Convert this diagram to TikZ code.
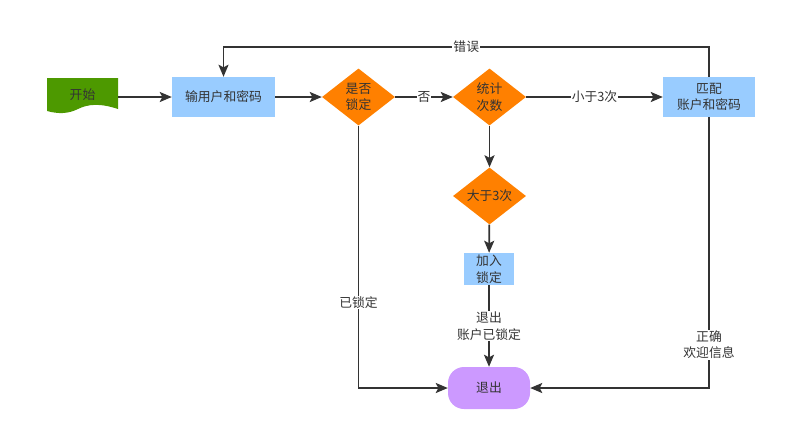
\documentclass[tikz,border=0pt]{standalone}
\usepackage{fontspec}
\setmainfont{Noto Sans CJK SC}
\usetikzlibrary{arrows.meta,shapes.geometric}
\definecolor{startgreen}{HTML}{4D9900}
\definecolor{boxblue}{HTML}{99CCFF}
\definecolor{decorange}{HTML}{FF8000}
\definecolor{exitpurple}{HTML}{CC99FF}
\definecolor{linec}{HTML}{333333}
\definecolor{txt}{HTML}{333333}
\begin{document}
\begin{tikzpicture}[x=1pt,y=-1pt,
  font=\fontsize{12.8}{16.5}\selectfont,
  every node/.style={text=txt},
  proc/.style={rectangle, fill=boxblue, inner sep=0pt, align=center},
  dec/.style={diamond, fill=decorange, aspect=1.28, minimum width=73pt, minimum height=57pt, inner sep=0pt, align=center},
  conn/.style={draw=linec, line width=1.8pt, -{Stealth[length=12pt,width=10pt,inset=2.5pt]}},
  lbl/.style={fill=white, inner sep=1pt, align=center}]
\useasboundingbox (0,0) rectangle (786,439);
% start (document shape)
\fill[startgreen] (47,78) -- (118,78) -- (118,109)
   .. controls (100,103) and (88,104) .. (78,109)
   .. controls (68,114) and (58,114) .. (47,111) -- cycle;
\node[minimum width=71pt, minimum height=30pt, inner sep=0pt] (start) at (82.5,95) {开始};
\node[proc, minimum width=103pt, minimum height=40pt] (input) at (223.5,97) {输用户和密码};
\node[dec] (lock) at (358.5,97) {是否\\锁定};
\node[dec] (count) at (489.5,97) {统计\\次数};
\node[proc, minimum width=92pt, minimum height=40pt] (match) at (709,97) {匹配\\账户和密码};
\node[dec] (gt3) at (489.5,196) {大于3次};
\node[proc, minimum width=50pt, minimum height=32pt] (lockbox) at (489,269) {加入\\锁定};
\node[rectangle, rounded corners=16pt, fill=exitpurple, minimum width=82pt, minimum height=42pt, inner sep=0pt] (exit) at (489,388) {退出};
% connectors
\draw[conn] (start.east |- 0,97) -- (input.west);
\draw[conn] (input) -- (lock);
\draw[conn] (lock) -- node[lbl]{否} (count);
\draw[conn] (count) -- node[lbl]{小于3次} (match);
\draw[conn] (match.north) -- (match.north |- 0,47) -- node[lbl]{错误} (input.north |- 0,47) -- (input.north);
\draw[conn] (count) -- (gt3);
\draw[conn] (gt3) -- (lockbox);
\draw[conn] (lockbox) -- node[lbl]{退出\\账户已锁定} (exit);
\draw[conn] (lock.south) |- node[lbl, pos=0.337]{已锁定} (exit.west);
\draw[conn] (match.south) |- node[lbl, pos=0.42]{正确\\欢迎信息} (exit.east);
\end{tikzpicture}
\end{document}
